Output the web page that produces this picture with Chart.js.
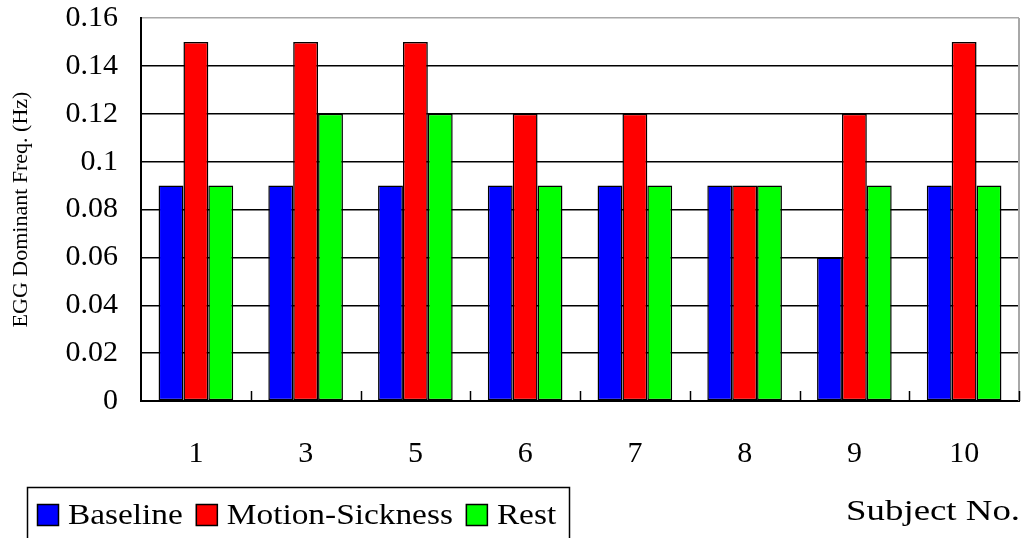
<!DOCTYPE html>
<html>
<head>
<meta charset="utf-8">
<script src="https://cdn.jsdelivr.net/npm/chart.js@4.4.0/dist/chart.umd.min.js"></script>
<style>
  html, body { margin: 0; padding: 0; background: #fff; }
  #wrap { width: 1025px; height: 538px; }
</style>
</head>
<body>
<div id="wrap"><canvas id="c" width="1025" height="538"></canvas></div>
<script>
// Subjects and EGG dominant frequency (Hz) per condition
const subjects = ['1', '3', '5', '6', '7', '8', '9', '10'];
const baseline = [0.09, 0.09, 0.09, 0.09, 0.09, 0.09, 0.06, 0.09];
const motionSickness = [0.15, 0.15, 0.15, 0.12, 0.12, 0.09, 0.12, 0.15];
const rest = [0.09, 0.12, 0.12, 0.09, 0.09, 0.09, 0.09, 0.09];
const yTickLabels = ['0', '0.02', '0.04', '0.06', '0.08', '0.1', '0.12', '0.14', '0.16'];

const FONT = '"Liberation Serif", "Times New Roman", serif';
const STRETCH = 1.15;

// Draws text widened horizontally around its left edge
function wideText(ctx, text, x, y, k) {
  ctx.save();
  ctx.translate(x, y);
  ctx.scale(k, 1);
  ctx.fillText(text, 0, 0);
  ctx.restore();
}

// Extra drawing: right frame edge, small category ticks, boxed legend, axis caption
const decorations = {
  id: 'decorations',
  afterDraw(chart) {
    const ctx = chart.ctx;
    const a = chart.chartArea;
    const xs = chart.scales.x;
    ctx.save();

    // right frame edge
    ctx.strokeStyle = '#a8a8a8';
    ctx.lineWidth = 2;
    ctx.beginPath();
    ctx.moveTo(a.right, a.top);
    ctx.lineTo(a.right, a.bottom);
    ctx.stroke();

    // inward tick marks between categories
    ctx.strokeStyle = '#000';
    ctx.lineWidth = 1.5;
    const n = chart.data.labels.length;
    const step = (xs.getPixelForTick(n - 1) - xs.getPixelForTick(0)) / (n - 1);
    for (let i = 1; i <= n; i++) {
      const x = Math.round(xs.getPixelForTick(0) - step / 2 + i * step) + 0.5;
      ctx.beginPath();
      ctx.moveTo(x, a.bottom);
      ctx.lineTo(x, a.bottom - 10);
      ctx.stroke();
    }

    // legend box
    ctx.strokeStyle = '#000';
    ctx.lineWidth = 1.5;
    ctx.strokeRect(27.5, 487.5, 542, 70);
    ctx.font = '29px ' + FONT;
    ctx.textBaseline = 'alphabetic';
    let x = 37;
    chart.data.datasets.forEach(ds => {
      ctx.fillStyle = ds.backgroundColor;
      ctx.fillRect(x, 504, 22, 22);
      ctx.strokeStyle = '#000';
      ctx.lineWidth = 1.5;
      ctx.strokeRect(x + 0.5, 504.5, 21, 21);
      const tx = x + 31;
      const w = ctx.measureText(ds.label).width * STRETCH;
      ctx.fillStyle = '#000';
      wideText(ctx, ds.label, tx, 524, STRETCH);
      x = tx + w + 13;
    });

    // axis caption
    const cap = 'Subject No.';
    const capK = 1.27;
    const cw = ctx.measureText(cap).width * capK;
    ctx.fillStyle = '#000';
    wideText(ctx, cap, 1020 - cw, 520, capK);

    ctx.restore();
  }
};

function build() {
  new Chart(document.getElementById('c'), {
    type: 'bar',
    data: {
      labels: subjects,
      datasets: [
        { label: 'Baseline', data: baseline, backgroundColor: '#0000ff' },
        { label: 'Motion-Sickness', data: motionSickness, backgroundColor: '#ff0000' },
        { label: 'Rest', data: rest, backgroundColor: '#00ff00' }
      ]
    },
    options: {
      responsive: false,
      animation: false,
      devicePixelRatio: 1,
      layout: { padding: { top: 18, right: 6, left: 0, bottom: 0 } },
      datasets: {
        bar: {
          categoryPercentage: 0.68,
          barPercentage: 1.0,
          borderColor: '#000',
          borderWidth: 1.5,
          borderSkipped: false
        }
      },
      plugins: {
        legend: { display: false },
        tooltip: { enabled: false }
      },
      scales: {
        x: {
          grid: { display: false, drawTicks: false },
          border: { display: true, color: '#000', width: 2 },
          ticks: {
            color: '#000',
            padding: 35,
            maxRotation: 0,
            font: { family: FONT, size: 30 }
          },
          afterFit(scale) { scale.height = 137; }
        },
        y: {
          min: 0,
          max: 0.16,
          ticks: {
            stepSize: 0.02,
            color: '#000',
            padding: 23,
            font: { family: FONT, size: 30 },
            callback: (v, i) => yTickLabels[i]
          },
          grid: {
            drawTicks: false,
            lineWidth: 1.5,
            color: c => (c.tick && c.tick.value >= 0.159) ? '#a8a8a8' : '#000'
          },
          border: { display: true, color: '#000', width: 2 },
          title: {
            display: true,
            text: 'EGG Dominant Freq. (Hz)',
            color: '#000',
            font: { family: FONT, size: 22 },
            padding: { top: 8, bottom: 0 }
          },
          afterFit(scale) {
            scale.width = 141;
            scale.paddingTop = 0;
            scale.paddingBottom = 0;
          }
        }
      }
    },
    plugins: [decorations]
  });
}

if (document.fonts && document.fonts.load) {
  Promise.all([
    document.fonts.load('30px "Liberation Serif"'),
    document.fonts.load('22px "Liberation Serif"')
  ]).then(build, build);
} else {
  build();
}
</script>
</body>
</html>
